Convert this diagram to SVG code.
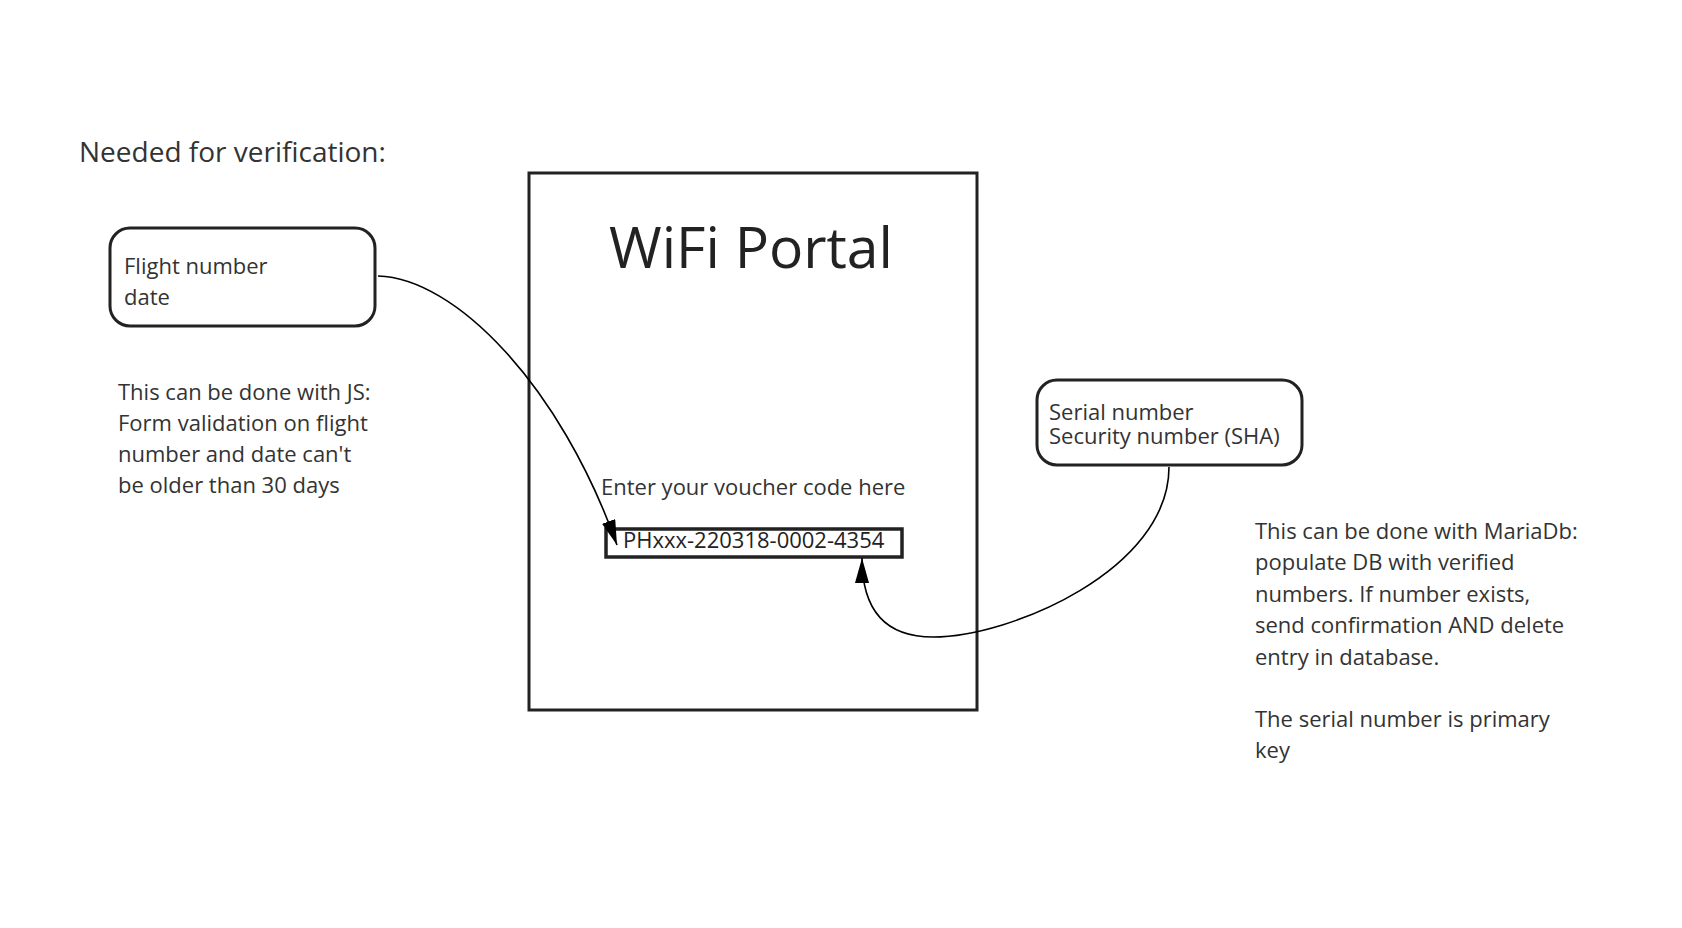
<svg xmlns="http://www.w3.org/2000/svg" width="1682" height="928" viewBox="0 0 1682 928">
<defs>
<style>
.t{font-family:"Open Sans","Liberation Sans",sans-serif;fill:#333;font-size:22px}
.box{fill:#fff;stroke:#222;stroke-width:3}
.rbox{fill:#fff;stroke:#222;stroke-width:3}
.edge{fill:none;stroke:#000;stroke-width:1.6}
</style>
<marker id="ah" markerUnits="userSpaceOnUse" markerWidth="26" markerHeight="14" refX="25" refY="7" orient="auto">
<path d="M0,0 L25,7 L0,14 Z" fill="#000"/>
</marker>
</defs>
<rect width="1682" height="928" fill="#fff"/>
<g id="title">
<text class="t" x="79" y="162" style="font-size:28px">Needed for verification:</text>
</g>
<g id="portal">
<rect class="box" x="529" y="173" width="448" height="537"/>
<text class="t" x="751" y="268" text-anchor="middle" style="font-size:57px;fill:#222">WiFi Portal</text>
<text class="t" x="601" y="495">Enter your voucher code here</text>
</g>
<g id="voucher">
<rect class="box" x="606" y="529" width="296" height="28" style="stroke-width:3.5"/>
<text class="t" x="623" y="548" style="fill:#222">PHxxx-220318-0002-4354</text>
</g>
<g id="flight">
<rect class="rbox" x="110" y="228" width="265" height="98" rx="20"/>
<text class="t" x="124" y="274">Flight number</text>
<text class="t" x="124" y="305">date</text>
</g>
<g id="js-note">
<text class="t" x="118" y="400">This can be done with JS:</text>
<text class="t" x="118" y="431">Form validation on flight</text>
<text class="t" x="118" y="462">number and date can't</text>
<text class="t" x="118" y="493">be older than 30 days</text>
</g>
<g id="serial">
<rect class="rbox" x="1037" y="380" width="265" height="85" rx="20"/>
<text class="t" x="1049" y="420">Serial number</text>
<text class="t" x="1049" y="444">Security number (SHA)</text>
</g>
<g id="db-note">
<text class="t" x="1255" y="539">This can be done with MariaDb:</text>
<text class="t" x="1255" y="570">populate DB with verified</text>
<text class="t" x="1255" y="602">numbers. If number exists,</text>
<text class="t" x="1255" y="633">send confirmation AND delete</text>
<text class="t" x="1255" y="665">entry in database.</text>
<text class="t" x="1255" y="727">The serial number is primary</text>
<text class="t" x="1255" y="758">key</text>
</g>
<g id="connectors">
<path class="edge" d="M378,276 C455,278 560,385 617,545" marker-end="url(#ah)"/>
<path class="edge" d="M1169,467 C1169,570 1010,637 933,637 C885,637 862,610 862,558" marker-end="url(#ah)"/>
</g>
</svg>
